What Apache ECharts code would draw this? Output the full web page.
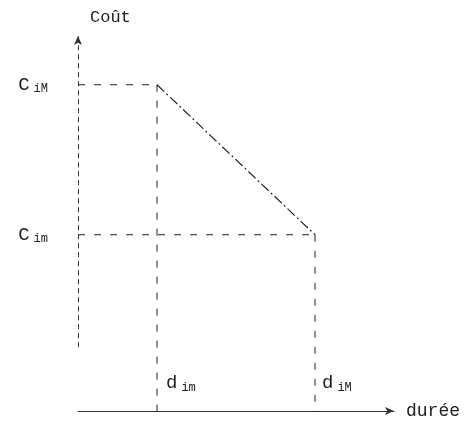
<!DOCTYPE html>
<html>
<head>
<meta charset="utf-8">
<script src="https://cdn.jsdelivr.net/npm/echarts@6/dist/echarts.min.js"></script>
<style>
  html, body { margin: 0; padding: 0; background: #fff; }
  #main { width: 475px; height: 429px; }
</style>
</head>
<body>
<div id="main"></div>
<script>
// durées (min, max) et coûts correspondants
var durees = [2.5, 7.5];          // d_im, d_iM
var couts = [8.7, 4.7];           // C_iM, C_im
var dureeLabels = ['{d|d}{s|im}', '{d|d}{s|iM}'];
var coutLabels = ['{c|C}{s|iM}', '{c|C}{s|im}'];
var axeYDebut = 1.7;

var mono = '"Liberation Mono", "DejaVu Sans Mono", monospace';
var ink = '#222';

var rich = {
  c: { fontFamily: mono, fontSize: 19, color: ink },
  d: { fontFamily: mono, fontSize: 19, color: ink },
  s: { fontFamily: mono, fontSize: 12, color: ink, padding: [9, 0, 0, 4] }
};

var guideStyle = { color: ink, width: 1, type: [7, 9] };

var myChart = echarts.init(document.getElementById('main'));
var option = {
  backgroundColor: '#fff',
  animation: false,
  grid: { left: 78, right: 81, top: 36, bottom: 18 },
  xAxis: {
    type: 'value',
    min: 0,
    max: 10,
    name: 'durée',
    nameLocation: 'end',
    nameGap: 12,
    nameTextStyle: { fontFamily: mono, fontSize: 18, color: ink },
    axisLine: {
      show: true,
      symbol: ['none', 'arrow'],
      symbolSize: [6, 9],
      lineStyle: { color: '#333', width: 1 }
    },
    axisTick: { show: false },
    axisLabel: { show: false },
    splitLine: { show: false }
  },
  yAxis: {
    type: 'value',
    min: 0,
    max: 10,
    name: 'Coût',
    nameLocation: 'end',
    nameGap: 10,
    nameTextStyle: { fontFamily: mono, fontSize: 17, color: ink, align: 'left', padding: [0, 0, 0, 12] },
    axisLine: { show: false },
    axisTick: { show: false },
    splitLine: { show: false },
    axisLabel: {
      show: true,
      customValues: couts,
      margin: 30,
      formatter: function (v) {
        return coutLabels[couts.indexOf(v)];
      },
      rich: rich
    }
  },
  series: [
    {
      // axe des coûts, en pointillé
      type: 'line',
      data: [],
      markLine: {
        silent: true,
        symbol: ['none', 'arrow'],
        symbolSize: [6, 9],
        label: { show: false },
        lineStyle: { color: '#333', width: 1, type: [5, 4] },
        data: [[{ coord: [0, axeYDebut] }, { coord: [0, 10] }]]
      }
    },
    {
      // droite coût-durée
      type: 'line',
      data: [[durees[0], couts[0]], [durees[1], couts[1]]],
      symbol: 'none',
      lineStyle: { color: ink, width: 1.2, type: [10, 3, 2, 3] }
    },
    {
      type: 'line',
      data: [[0, couts[0]], [durees[0], couts[0]]],
      symbol: 'none',
      lineStyle: guideStyle
    },
    {
      type: 'line',
      data: [[0, couts[1]], [durees[1], couts[1]]],
      symbol: 'none',
      lineStyle: guideStyle
    },
    {
      type: 'line',
      data: [[durees[0], couts[0]], { value: [durees[0], 0], label: { show: true, formatter: dureeLabels[0] } }],
      symbol: 'circle',
      symbolSize: 0,
      lineStyle: guideStyle,
      label: { show: false, position: 'right', offset: [4, -28], rich: rich }
    },
    {
      type: 'line',
      data: [[durees[1], couts[1]], { value: [durees[1], 0], label: { show: true, formatter: dureeLabels[1] } }],
      symbol: 'circle',
      symbolSize: 0,
      lineStyle: guideStyle,
      label: { show: false, position: 'right', offset: [2, -28], rich: rich }
    }
  ]
};
myChart.setOption(option);
</script>
</body>
</html>
